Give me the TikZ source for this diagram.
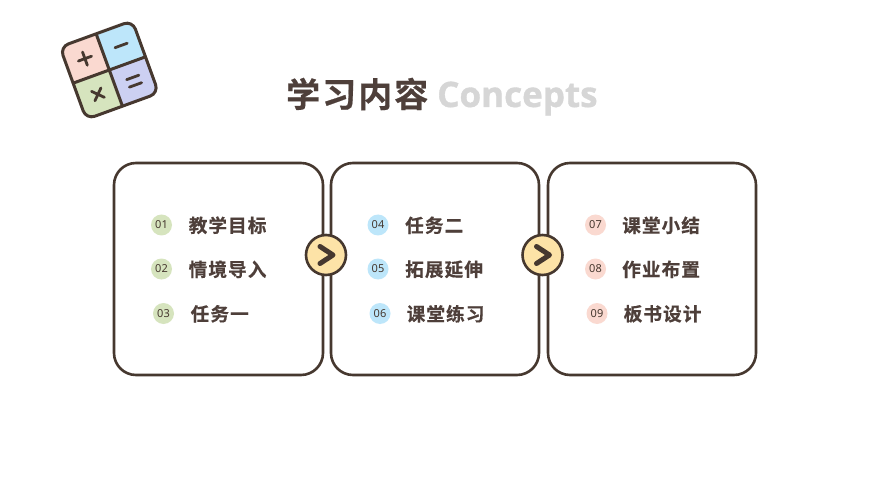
\documentclass[tikz,border=0pt]{standalone}
\usepackage{fontspec}
\setmainfont{Noto Sans}
\newfontfamily\cjkb[LetterSpace=6,FakeBold=0.6]{Noto Sans CJK SC Bold}
\newfontfamily\cjkt[LetterSpace=6,FakeBold=0.5]{Noto Sans CJK SC Bold}
\newfontfamily\latb[FakeBold=1]{Open Sans Bold}
\definecolor{ink}{HTML}{46382F}
\definecolor{titleink}{HTML}{4E3F3A}
\definecolor{greyt}{HTML}{D6D6D6}
\definecolor{gr}{HTML}{D6E4BE}
\definecolor{bl}{HTML}{BDE6FA}
\definecolor{pk}{HTML}{FAD9D0}
\definecolor{vi}{HTML}{CCD0F2}
\definecolor{ye}{HTML}{FDE3A7}
\tikzset{
  panel/.style={draw=ink,line width=2.6pt,rounded corners=22pt,fill=white},
  num/.style={circle,minimum size=21pt,inner sep=0pt,font=\fontsize{11}{11}\selectfont,text=ink},
  lab/.style={anchor=west,inner sep=0pt,font=\cjkt\fontsize{18.6}{18.6}\selectfont,text=titleink},
  arrowdisc/.style={circle,draw=ink,line width=2.6pt,fill=ye,minimum size=40pt,inner sep=0pt},
  chev/.style={draw=ink,line width=5pt,line cap=round,line join=round},
  sym/.style={draw=ink,line width=2.8pt,line cap=round},
  calcline/.style={draw=ink,line width=3pt}
}
\begin{document}
\begin{tikzpicture}[x=1pt,y=-1pt]
\useasboundingbox (0,0) rectangle (870,489);
\fill[white] (0,0) rectangle (870,489);
% calculator
\begin{scope}[shift={(109.3,70)},rotate=20]
  \begin{scope}
    \clip[rounded corners=9pt] (-38.5,-38.5) rectangle (38.5,38.5);
    \fill[pk] (-38.5,-38.5) rectangle (0,0);
    \fill[bl] (0,-38.5) rectangle (38.5,0);
    \fill[gr] (-38.5,0) rectangle (0,38.5);
    \fill[vi] (0,0) rectangle (38.5,38.5);
  \end{scope}
  \draw[calcline,rounded corners=9pt] (-38.5,-38.5) rectangle (38.5,38.5);
  \draw[calcline] (0,-38.5) -- (0,38.5) (-38.5,0) -- (38.5,0);
  \draw[sym] (-26,-19) -- (-12,-19) (-19,-26) -- (-19,-12);
  \draw[sym] (13,-19) -- (26,-19);
  \draw[sym] (13,15) -- (26,15) (13,23) -- (26,23);
  \draw[sym] (-24,14) -- (-14,24) (-14,14) -- (-24,24);
\end{scope}
% title
\node[anchor=west,inner sep=0pt,text=titleink,font=\cjkb\fontsize{34}{34}\selectfont] (t1) at (286,94) {学习内容};
\node[anchor=west,inner sep=0pt,text=greyt,font=\latb\fontsize{35}{35}\selectfont] (t2) at (437,98.5) {Concepts};
% panels
\draw[panel] (114,163) rectangle (323,375);
\draw[panel] (331,163) rectangle (539,375);
\draw[panel] (548,163) rectangle (756,375);
% items
\node[num,fill=gr] (n1) at (161.5,225) {01};
\node[lab] (l1) at (188.5,225.3) {教学目标};
\node[num,fill=gr] (n2) at (161.5,269) {02};
\node[lab] (l2) at (188.5,269.3) {情境导入};
\node[num,fill=gr] (n3) at (163.5,313.5) {03};
\node[lab] (l3) at (190.5,313.8) {任务一};
\node[num,fill=bl] (n4) at (378,225) {04};
\node[lab] (l4) at (405,225.3) {任务二};
\node[num,fill=bl] (n5) at (378,269) {05};
\node[lab] (l5) at (405,269.3) {拓展延伸};
\node[num,fill=bl] (n6) at (380,313.5) {06};
\node[lab] (l6) at (406.5,313.8) {课堂练习};
\node[num,fill=pk] (n7) at (595.5,225) {07};
\node[lab] (l7) at (622,225.3) {课堂小结};
\node[num,fill=pk] (n8) at (595.5,269) {08};
\node[lab] (l8) at (622,269.3) {作业布置};
\node[num,fill=pk] (n9) at (597,313.5) {09};
\node[lab] (l9) at (623.5,313.8) {板书设计};
% arrows
\node[arrowdisc] (a1) at (326,255) {};
\draw[chev] ([shift={(-6,-8.5)}]a1.center) -- ([shift={(7,0)}]a1.center) -- ([shift={(-6,8.5)}]a1.center);
\node[arrowdisc] (a2) at (542.5,255) {};
\draw[chev] ([shift={(-6,-8.5)}]a2.center) -- ([shift={(7,0)}]a2.center) -- ([shift={(-6,8.5)}]a2.center);
\end{tikzpicture}
\end{document}
